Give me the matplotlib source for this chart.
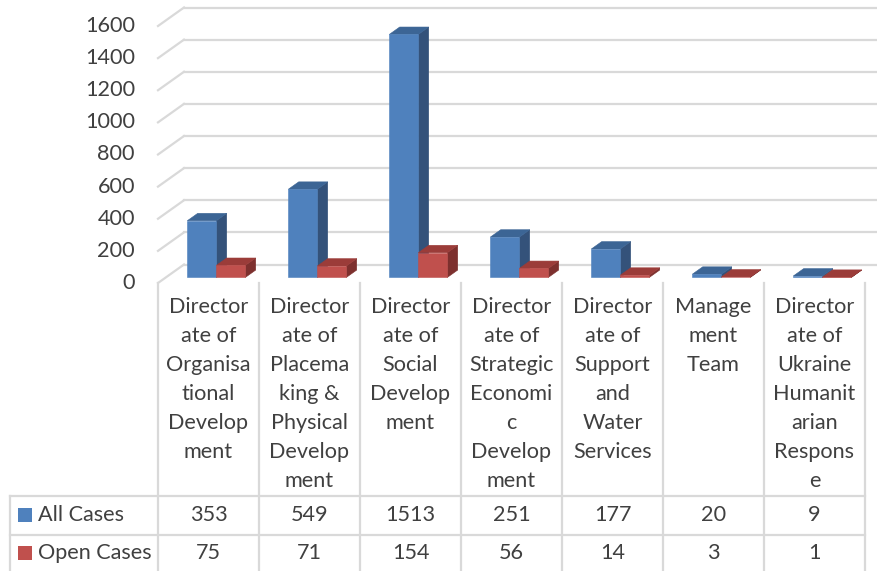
import matplotlib.pyplot as plt
from matplotlib.patches import Polygon, Rectangle

categories = [
    "Director\nate of\nOrganisa\ntional\nDevelop\nment",
    "Director\nate of\nPlacema\nking &\nPhysical\nDevelop\nment",
    "Director\nate of\nSocial\nDevelop\nment",
    "Director\nate of\nStrategic\nEconomi\nc\nDevelop\nment",
    "Director\nate of\nSupport\nand\nWater\nServices",
    "Manage\nment\nTeam",
    "Director\nate of\nUkraine\nHumanit\narian\nRespons\ne",
]
series_names = ["All Cases", "Open Cases"]
all_cases = [353, 549, 1513, 251, 177, 20, 9]
open_cases = [75, 71, 154, 56, 14, 3, 1]
y_ticks = [0, 200, 400, 600, 800, 1000, 1200, 1400, 1600]

# face colours: front, top, side
blue = ("#4F81BD", "#3C6595", "#34527A")
red = ("#C0504D", "#9B3C39", "#7D302E")
grid_col = "#D9D9D9"
text_col = "#404040"
font = ["Lato", "DejaVu Sans"]
fs = 15.6

W, H = 878, 571
fig = plt.figure(figsize=(W / 100, H / 100), dpi=100)

# overlay in pixel coords for the data table
ov = fig.add_axes([0, 0, 1, 1])
ov.set_xlim(0, W)
ov.set_ylim(H, 0)
ov.axis("off")

# plot area: category / value coordinates of the front plane
left, right, bottom, top = 158, 865, 283, 26
ax = fig.add_axes([left / W, 1 - bottom / H, (right - left) / W, (bottom - top) / H])
n = len(categories)
ax.set_xlim(-0.5, n - 0.5)
ax.set_ylim(0, 1600)
ax.axis("off")

col_w = (right - left) / n
DX = 26 / col_w                  # depth shift in category units
DY = 18.5 * 1600 / (bottom - top)  # depth shift in value units


def proj(x, v, z):
    return (x + z * DX, v + z * DY)


# gridlines: back wall + left side wall
for t in y_ticks:
    ax.plot([-0.5, -0.5 + DX], [t, t + DY], color=grid_col, lw=1.6, clip_on=False, zorder=1)
    ax.plot([-0.5 + DX, n + 1], [t + DY, t + DY], color=grid_col, lw=1.6, clip_on=False, zorder=1)
    ax.text(-0.5 - 23 / col_w, t, str(t), ha="right", va="center", fontsize=fs,
            color=text_col, family=font)

bw = 29 / col_w
z0, z1 = 0.3, 0.7


def bar3d(x0, v, cols, zo):
    x1 = x0 + bw
    front = [proj(x0, 0, z0), proj(x1, 0, z0), proj(x1, v, z0), proj(x0, v, z0)]
    topf = [proj(x0, v, z0), proj(x1, v, z0), proj(x1, v, z1), proj(x0, v, z1)]
    side = [proj(x1, 0, z0), proj(x1, v, z0), proj(x1, v, z1), proj(x1, 0, z1)]
    for pts, c in ((side, cols[2]), (topf, cols[1]), (front, cols[0])):
        ax.add_patch(Polygon(pts, closed=True, fc=c, ec=c, lw=0.4, clip_on=False, zorder=zo))


for i in range(n):
    bar3d(i - bw, all_cases[i], blue, 3 + 2 * i)
    bar3d(i, open_cases[i], red, 4 + 2 * i)

# data table
row_y = [496, 535]
tab_left = 10
for k in range(n + 1):
    x = left + k * col_w
    ov.plot([x, x], [bottom, H], color=grid_col, lw=1.6)
ov.plot([tab_left, tab_left], [row_y[0], H], color=grid_col, lw=1.6)
for y in row_y:
    ov.plot([tab_left, right], [y, y], color=grid_col, lw=1.6)

line_h = 29
for i, lab in enumerate(categories):
    cx = left + (i + 0.5) * col_w
    for j, ln in enumerate(lab.split("\n")):
        ov.text(cx, 307 + j * line_h, ln, ha="center", va="center", fontsize=fs,
                color=text_col, family=font)

row_c = [515, 553]
for r, (name, vals, cols) in enumerate(zip(series_names, [all_cases, open_cases], [blue, red])):
    ov.add_patch(Rectangle((18, row_c[r] - 7), 14, 14, fc=cols[0], ec="none"))
    ov.text(38, row_c[r], name, ha="left", va="center", fontsize=fs, color=text_col, family=font)
    for i, v in enumerate(vals):
        ov.text(left + (i + 0.5) * col_w, row_c[r], str(v), ha="center", va="center",
                fontsize=fs, color=text_col, family=font)

fig.savefig("out.png", dpi=100)
